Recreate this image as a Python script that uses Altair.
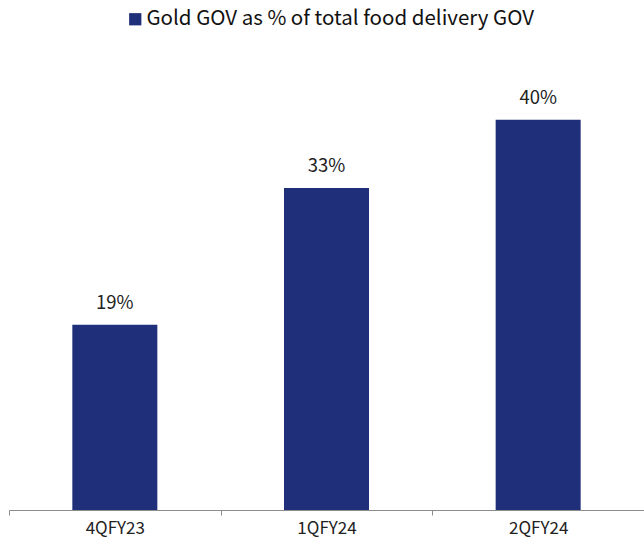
import altair as alt
import pandas as pd

quarters = ["4QFY23", "1QFY24", "2QFY24"]
values = [19, 33, 40]
series = "Gold GOV as % of total food delivery GOV"

df = pd.DataFrame({"quarter": quarters, "value": values, "series": [series] * 3})
df["label"] = df["value"].astype(str) + "%"

FONT = "Noto Sans CJK KR"
NAVY = "#1f2f7a"

base = alt.Chart(df).encode(
    x=alt.X(
        "quarter:N",
        sort=quarters,
        scale=alt.Scale(paddingInner=0, paddingOuter=0),
        axis=alt.Axis(
            title=None,
            labelAngle=0,
            labelFont=FONT,
            labelFontSize=17,
            labelColor="#222222",
            labelPadding=5,
            domainColor="#8c8c8c",
            tickColor="#8c8c8c",
            tickSize=5,
            tickBand="extent",
            grid=False,
        ),
    ),
    y=alt.Y("value:Q", scale=alt.Scale(domain=[0, 45], nice=False), axis=None),
)

bars = base.mark_bar(size=85, color=NAVY).encode(
    color=alt.Color(
        "series:N",
        scale=alt.Scale(range=[NAVY]),
        legend=alt.Legend(
            title=None,
            orient="none",
            legendX=116,
            legendY=-62,
            symbolType="square",
            symbolSize=150,
            symbolStrokeWidth=0,
            labelOffset=1,
            labelFont=FONT,
            labelFontSize=20.5,
            labelColor="#111111",
            labelLimit=600,
        ),
    )
)

labels = base.mark_text(
    dy=-16, baseline="alphabetic", font=FONT, fontSize=18.5, color="#222222"
).encode(text="label:N")

chart = (
    (bars + labels)
    .properties(
        width=635,
        height=439,
        autosize=alt.AutoSizeParams(type="none"),
        padding={"left": 9, "top": 71, "right": 0, "bottom": 34},
    )
    .configure_view(stroke=None)
)

chart.save("out.html", embed_options={"renderer": "svg", "actions": False})
